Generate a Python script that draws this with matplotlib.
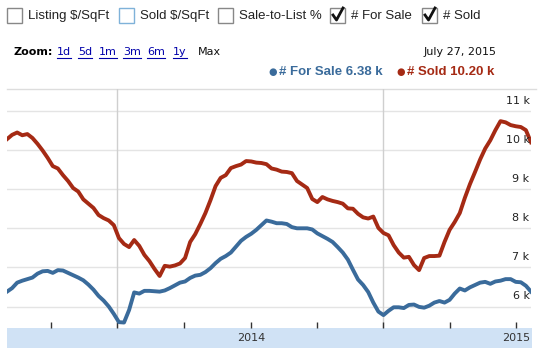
import matplotlib
matplotlib.use("Agg")
import matplotlib.pyplot as plt
import matplotlib.dates as mdates
import matplotlib.transforms as mtransforms
from matplotlib.patches import Rectangle
from matplotlib.lines import Line2D
import pandas as pd

# ---------------- data (thousands) ----------------
start_date = "2013-01-30"
sold_k = [10.28, 10.39, 10.45, 10.38, 10.41, 10.31, 10.16, 9.99, 9.80, 9.59,
          9.53, 9.36, 9.21, 9.03, 8.94, 8.74, 8.63, 8.52, 8.34, 8.26,
          8.20, 8.08, 7.75, 7.60, 7.52, 7.70, 7.55, 7.32, 7.16, 6.96,
          6.78, 7.04, 7.02, 7.05, 7.10, 7.24, 7.65, 7.85, 8.11, 8.39,
          8.72, 9.08, 9.29, 9.36, 9.54, 9.59, 9.63, 9.72, 9.71, 9.68,
          9.67, 9.64, 9.53, 9.50, 9.45, 9.44, 9.41, 9.21, 9.12, 9.03,
          8.75, 8.67, 8.80, 8.74, 8.70, 8.67, 8.63, 8.51, 8.50, 8.37,
          8.28, 8.25, 8.30, 8.01, 7.88, 7.82, 7.57, 7.38, 7.25, 7.27,
          7.06, 6.93, 7.24, 7.29, 7.29, 7.30, 7.65, 7.96, 8.16, 8.39,
          8.78, 9.13, 9.44, 9.76, 10.04, 10.25, 10.51, 10.74, 10.71, 10.64,
          10.61, 10.59, 10.51, 10.20]
for_sale_k = [6.38, 6.47, 6.61, 6.66, 6.70, 6.74, 6.84, 6.90, 6.91, 6.86,
              6.93, 6.92, 6.86, 6.80, 6.74, 6.67, 6.56, 6.43, 6.27, 6.15,
              6.00, 5.81, 5.60, 5.59, 5.91, 6.36, 6.33, 6.40, 6.40, 6.39,
              6.38, 6.41, 6.47, 6.54, 6.61, 6.64, 6.73, 6.79, 6.81, 6.88,
              6.98, 7.11, 7.22, 7.29, 7.38, 7.53, 7.68, 7.78, 7.86, 7.96,
              8.08, 8.20, 8.17, 8.13, 8.13, 8.11, 8.03, 8.00, 8.00, 8.00,
              7.97, 7.87, 7.80, 7.73, 7.65, 7.52, 7.38, 7.20, 6.94, 6.69,
              6.55, 6.37, 6.10, 5.87, 5.78, 5.89, 5.98, 5.98, 5.96, 6.04,
              6.05, 5.99, 5.97, 6.02, 6.10, 6.14, 6.10, 6.17, 6.33, 6.46,
              6.41, 6.49, 6.55, 6.61, 6.63, 6.58, 6.64, 6.66, 6.70, 6.70,
              6.63, 6.62, 6.53, 6.38]
y_ticks = [6, 7, 8, 9, 10, 11]
y_tick_labels = ["6 k", "7 k", "8 k", "9 k", "10 k", "11 k"]
year_labels = ["2014", "2015"]
checkbox_labels = ["Listing $/SqFt", "Sold $/SqFt", "Sale-to-List %", "# For Sale", "# Sold"]
checkbox_checked = [False, False, False, True, True]
zoom_links = ["1d", "5d", "1m", "3m", "6m", "1y"]
header_date = "July 27, 2015"
legend_for_sale = "# For Sale 6.38 k"
legend_sold = "# Sold 10.20 k"

dates = pd.date_range(start_date, periods=len(sold_k), freq="7D")

RED = "#a52a14"
BLUE = "#3a6b9b"
W, H = 543, 353

fig = plt.figure(figsize=(W / 100, H / 100), dpi=100)
fig.patch.set_facecolor("white")

def fx(px):
    return px / W

def fy(py):
    return 1 - py / H

# ---------------- bottom band (drawn behind) ----------------
band = fig.add_axes([fx(7), fy(348), fx(532 - 7), (348 - 328) / H], zorder=0)
band.set_facecolor("#d0e2f5")
for s in band.spines.values():
    s.set_visible(False)
band.set_xticks([])
band.set_yticks([])

# ---------------- plot area ----------------
ax_left, ax_right, ax_top, ax_bottom = 7, 531, 89, 328
ax = fig.add_axes([fx(ax_left), fy(ax_bottom), fx(ax_right - ax_left), (ax_bottom - ax_top) / H], zorder=2)
ax.set_facecolor("none")
for s in ax.spines.values():
    s.set_visible(False)

ymin = 11 - (ax_bottom - 111) / 39.1
ymax = 11 - (ax_top - 111) / 39.1
ax.set_ylim(ymin, ymax)
ax.set_xlim(dates[0], dates[-1])

for v in y_ticks:
    ax.axhline(v, color="#e4e4e4", lw=1, zorder=1)

# vertical grid lines at mid-year
for d in ["2013-07-01", "2014-07-01"]:
    ax.axvline(pd.Timestamp(d), color="#cfcfcf", lw=1, zorder=1)

ax.plot(dates, sold_k, color=RED, lw=2.8, solid_joinstyle="round", zorder=3)
ax.plot(dates, for_sale_k, color=BLUE, lw=2.8, solid_joinstyle="round", zorder=3)

# y labels inside on the right, above gridlines
trans = mtransforms.blended_transform_factory(ax.transAxes, ax.transData)
for v, lab in zip(y_ticks, y_tick_labels):
    ax.annotate(lab, xy=(1, v), xycoords=trans, xytext=(-1, 7.5), textcoords="offset points",
                ha="right", va="center", fontsize=8, color="#222222", family="DejaVu Sans", zorder=4)

# quarterly tick marks
ax.xaxis.set_major_locator(mdates.MonthLocator(bymonth=[1, 4, 7, 10]))
ax.tick_params(axis="x", direction="in", length=4, width=1, color="#333333", labelbottom=False)
ax.tick_params(axis="y", left=False, labelleft=False)

# year labels inside the band
tb = mtransforms.blended_transform_factory(ax.transData, fig.transFigure)
for lab in year_labels:
    ax.text(mdates.date2num(pd.Timestamp(f"{lab}-01-01")), fy(338), lab, transform=tb,
            ha="center", va="center", fontsize=8, color="#333333", family="DejaVu Sans",
            clip_on=False, zorder=5)

# ---------------- header ----------------
fig.add_artist(Line2D([fx(7), fx(536)], [fy(89), fy(89)], transform=fig.transFigure,
                      color="#dddddd", lw=1))

box_x = [7, 119, 218, 330, 422]
for bx, lab, chk, i in zip(box_x, checkbox_labels, checkbox_checked, range(5)):
    ec = "#7fb2d9" if i == 1 else "#888888"
    fig.patches.append(Rectangle((fx(bx), fy(23)), fx(15), 15 / H, transform=fig.transFigure,
                                 facecolor="white", edgecolor=ec, lw=1))
    if chk:
        fig.add_artist(Line2D([fx(bx + 3), fx(bx + 6.5), fx(bx + 13)], [fy(15), fy(20), fy(8)],
                              transform=fig.transFigure, color="#111111", lw=2))
    fig.text(fx(bx + 21), fy(16), lab, ha="left", va="center", fontsize=9.5,
             family="Liberation Sans", color="#222222")

fig.text(fx(14), fy(52), "Zoom:", ha="left", va="center", fontsize=8, fontweight="bold",
         family="DejaVu Sans", color="#000000")
zx = [57, 78, 99, 123, 147, 173]
for x0, lab in zip(zx, zoom_links):
    fig.text(fx(x0), fy(52), lab, ha="left", va="center", fontsize=8, family="DejaVu Sans",
             color="#0000aa")
fig.canvas.draw()
renderer = fig.canvas.get_renderer()
for t in list(fig.texts):
    if t.get_text() in zoom_links:
        bb = t.get_window_extent(renderer)
        fig.add_artist(Line2D([bb.x0 / W, bb.x1 / W], [fy(58), fy(58)], transform=fig.transFigure,
                              color="#0000aa", lw=0.8))
fig.text(fx(198), fy(52), "Max", ha="left", va="center", fontsize=8, family="DejaVu Sans",
         color="#111111")
fig.text(fx(497), fy(52), header_date, ha="right", va="center", fontsize=8, family="DejaVu Sans",
         color="#111111")

fig.text(fx(268), fy(72), "\u25cf", ha="left", va="center", fontsize=7, color=BLUE)
fig.text(fx(279), fy(72), legend_for_sale, ha="left", va="center", fontsize=9.5, fontweight="bold",
         family="Liberation Sans", color=BLUE)
fig.text(fx(396), fy(72), "\u25cf", ha="left", va="center", fontsize=7, color=RED)
fig.text(fx(407), fy(72), legend_sold, ha="left", va="center", fontsize=9.5, fontweight="bold",
         family="Liberation Sans", color=RED)

fig.savefig("out.png", dpi=100, facecolor="white")
